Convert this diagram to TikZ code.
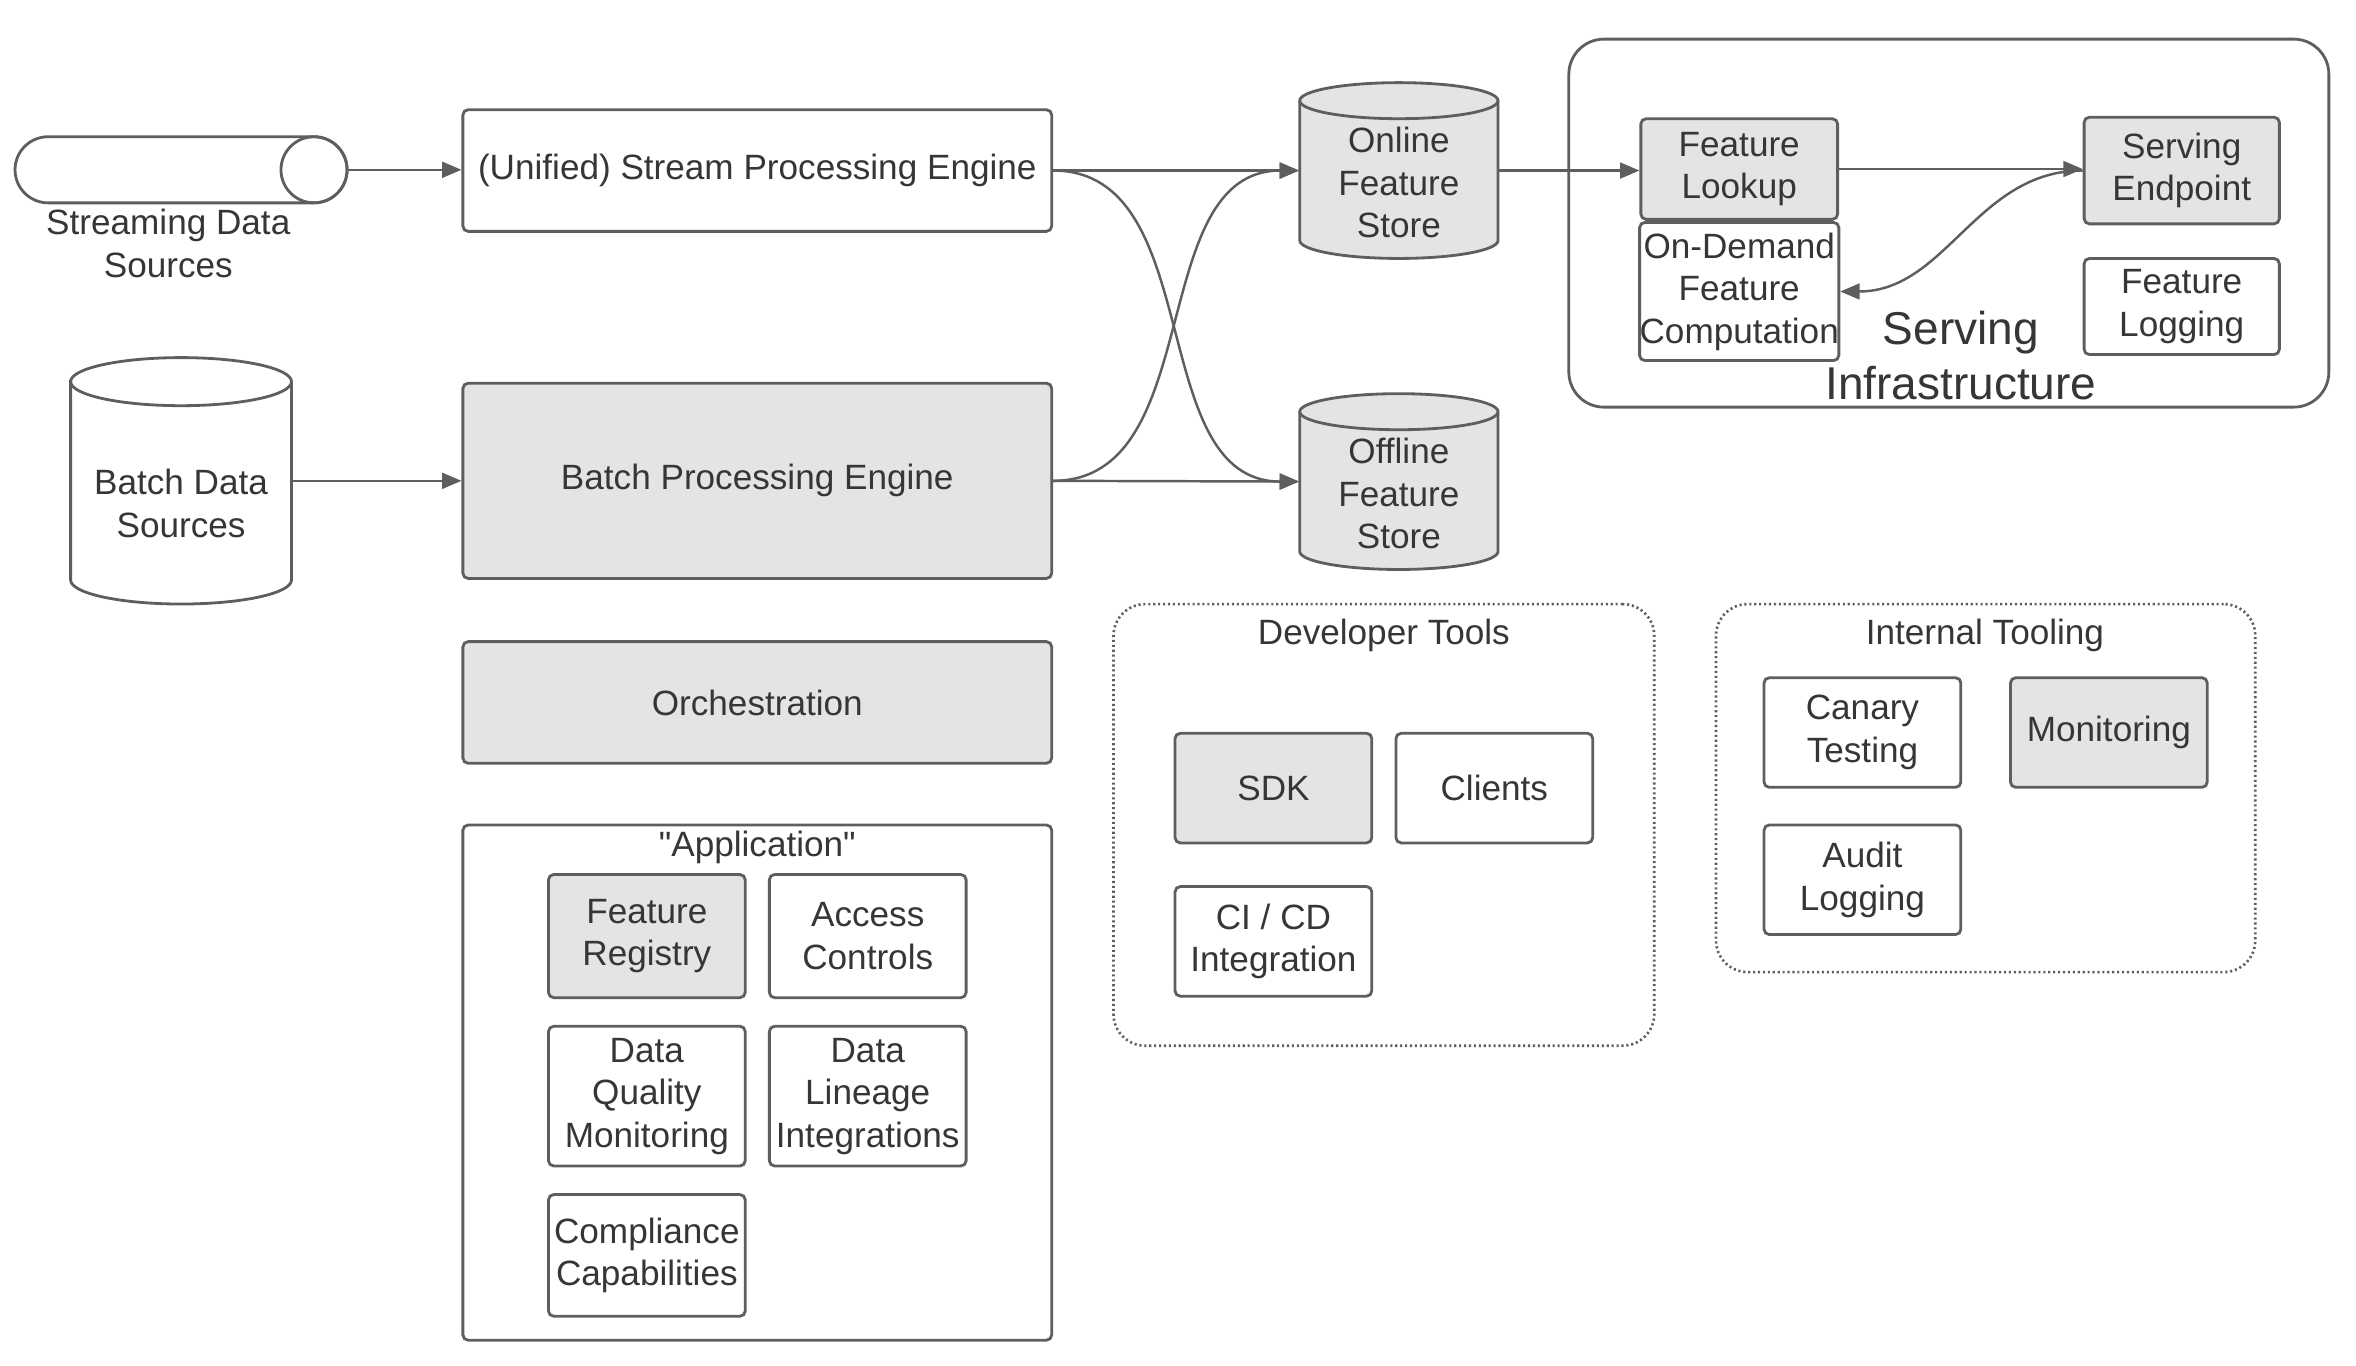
\documentclass[tikz,border=0pt]{standalone}
\usepackage{fontspec}
\setmainfont{Liberation Sans}
\newfontfamily\plainq{Liberation Sans}
\usetikzlibrary{arrows.meta}
\newdimen\PXU \PXU=0.42748pt
\definecolor{lc}{HTML}{5E5E5E}
\definecolor{gf}{HTML}{E4E4E4}
\definecolor{tc}{HTML}{363636}
\newcommand\drawcyl[6]{%
  \path[#1] ({#2-#4},{#3+#5-#6}) -- ({#2-#4},{#3-#5+#6})
     arc[start angle=180,end angle=360,x radius=#4,y radius=#6]
     -- ({#2+#4},{#3+#5-#6})
     arc[start angle=0,end angle=180,x radius=#4,y radius=#6] -- cycle;
  \draw[outl] ({#2-#4},{#3+#5-#6}) arc[start angle=180,end angle=360,x radius=#4,y radius=#6];
}
\begin{document}
\begin{tikzpicture}[x=0.015026cm, y=0.015026cm,
  font=\fontsize{10}{12.1}\selectfont, text=tc,
  outl/.style={draw=lc, line width=0.8pt},
  box/.style={outl, rounded corners=1.5pt, align=center, inner sep=0pt, fill=white},
  gbox/.style={box, fill=gf},
  cylbox/.style={inner sep=0pt},
  cyltext/.style={align=center, text=tc},
  txt/.style={align=center, inner sep=0pt},
  bigtxt/.style={align=center, inner sep=0pt, font=\fontsize{13.1}{15.8}\selectfont},
  infra/.style={outl, rounded corners=10pt},
  dotbox/.style={draw=lc, line width=0.75pt, dash pattern=on 0.6pt off 0.8pt, rounded corners=9pt},
  arr/.style={draw=lc, line width=0.7pt, -{Triangle[length=5.5pt,width=4.5pt]}},
]
\useasboundingbox (0,0) rectangle (1568,-909);

% ---------- sources ----------
\path[outl, fill=white] (32,-91) -- (209,-91)
   arc[start angle=90,end angle=-90,x radius=22,y radius=22] -- (32,-135)
   arc[start angle=270,end angle=90,x radius=22,y radius=22] -- cycle;
\draw[outl] (209,-113) ellipse [x radius=22, y radius=22];
\node[cylbox, minimum width=221\PXU, minimum height=44\PXU] (sds) at (120.5,-113) {};
\node[txt] (sdslabel) at (112,-162) {Streaming Data\\Sources};

\drawcyl{outl, fill=white}{120.5}{-320}{73.5}{82}{16}
\node[cylbox, minimum width=147\PXU, minimum height=164\PXU,
  label={[cyltext, yshift=-15\PXU]center:{Batch Data\\Sources}}] (batchsrc) at (120.5,-320) {};

% ---------- engines ----------
\node[box, minimum width=392\PXU, minimum height=81\PXU] (stream) at (504,-113.5) {(Unified) Stream Processing Engine};
\node[gbox, minimum width=392\PXU, minimum height=130\PXU] (batch) at (504,-320) {Batch Processing Engine};
\node[gbox, minimum width=392\PXU, minimum height=81\PXU] (orch) at (504,-467.5) {Orchestration};

% ---------- application ----------
\node[box, minimum width=392\PXU, minimum height=343\PXU] (app) at (504,-720.5) {};
\node[txt, font=\plainq\fontsize{10}{12.1}\selectfont] (apptitle) at (504,-564) {"Application"};
\node[gbox, minimum width=131\PXU, minimum height=82\PXU] (freg) at (430.5,-623) {Feature\\Registry};
\node[box, minimum width=131\PXU, minimum height=82\PXU] (acc) at (577.5,-623) {Access\\Controls};
\node[box, minimum width=131\PXU, minimum height=93\PXU] (dqm) at (430.5,-729.5) {Data\\Quality\\Monitoring};
\node[box, minimum width=131\PXU, minimum height=93\PXU] (dli) at (577.5,-729.5) {Data\\Lineage\\Integrations};
\node[box, minimum width=131\PXU, minimum height=81\PXU] (comp) at (430.5,-835.5) {Compliance\\Capabilities};

% ---------- feature stores ----------
\drawcyl{outl, fill=gf}{931}{-113.5}{66}{58.5}{12}
\node[cylbox, minimum width=132\PXU, minimum height=117\PXU,
  label={[cyltext, yshift=-8\PXU]center:{Online\\Feature\\Store}}] (online) at (931,-113.5) {};
\drawcyl{outl, fill=gf}{931}{-320.5}{66}{58.5}{12}
\node[cylbox, minimum width=132\PXU, minimum height=117\PXU,
  label={[cyltext, yshift=-8\PXU]center:{Offline\\Feature\\Store}}] (offline) at (931,-320.5) {};

% ---------- serving infrastructure ----------
\node[infra, minimum width=506\PXU, minimum height=245\PXU] (servinfra) at (1297,-148.5) {};
\node[gbox, minimum width=131\PXU, minimum height=67\PXU] (flook) at (1157.5,-112.5) {Feature\\Lookup};
\node[box, minimum width=131\PXU, minimum height=92\PXU] (odfc) at (1157.5,-194) {On-Demand\\Feature\\Computation};
\node[gbox, minimum width=130\PXU, minimum height=71\PXU] (sep) at (1452,-113.5) {Serving\\Endpoint};
\node[box, minimum width=130\PXU, minimum height=64\PXU] (flog) at (1452,-204) {Feature\\Logging};
\node[bigtxt] (silabel) at (1305,-236.5) {Serving\\Infrastructure};

% ---------- developer tools ----------
\node[dotbox, minimum width=360\PXU, minimum height=294\PXU] (dev) at (921,-549) {};
\node[txt] (devtitle) at (921,-423) {Developer Tools};
\node[gbox, minimum width=131\PXU, minimum height=73\PXU] (sdk) at (847.5,-524.5) {SDK};
\node[box, minimum width=131\PXU, minimum height=73\PXU] (clients) at (994.5,-524.5) {Clients};
\node[box, minimum width=131\PXU, minimum height=73\PXU] (cicd) at (847.5,-626.5) {CI / CD\\Integration};

% ---------- internal tooling ----------
\node[dotbox, minimum width=359\PXU, minimum height=245\PXU] (internal) at (1321.5,-524.5) {};
\node[txt] (inttitle) at (1321,-423) {Internal Tooling};
\node[box, minimum width=131\PXU, minimum height=73\PXU] (canary) at (1239.5,-487.5) {Canary\\Testing};
\node[gbox, minimum width=131\PXU, minimum height=73\PXU] (monitor) at (1403.5,-487.5) {Monitoring};
\node[box, minimum width=131\PXU, minimum height=73\PXU] (audit) at (1239.5,-585.5) {Audit\\Logging};

% ---------- connectors ----------
\draw[arr] (sds.east) -- (sds.east -| stream.west);
\draw[arr] (batchsrc.east) -- (batchsrc.east -| batch.west);
\draw[arr] (stream.east) -- (online.west);
\draw[arr] (stream.east) to[out=0,in=180] (offline.west);
\draw[arr] (batch.east) -- (offline.west);
\draw[arr] (batch.east) to[out=0,in=180] (online.west);
\draw[arr] (online.east) -- (online.east -| flook.west);
\draw[arr] (flook.east) -- (flook.east -| sep.west);
\draw[arr] (sep.west) to[out=180,in=0] (odfc.east);
\end{tikzpicture}
\end{document}
